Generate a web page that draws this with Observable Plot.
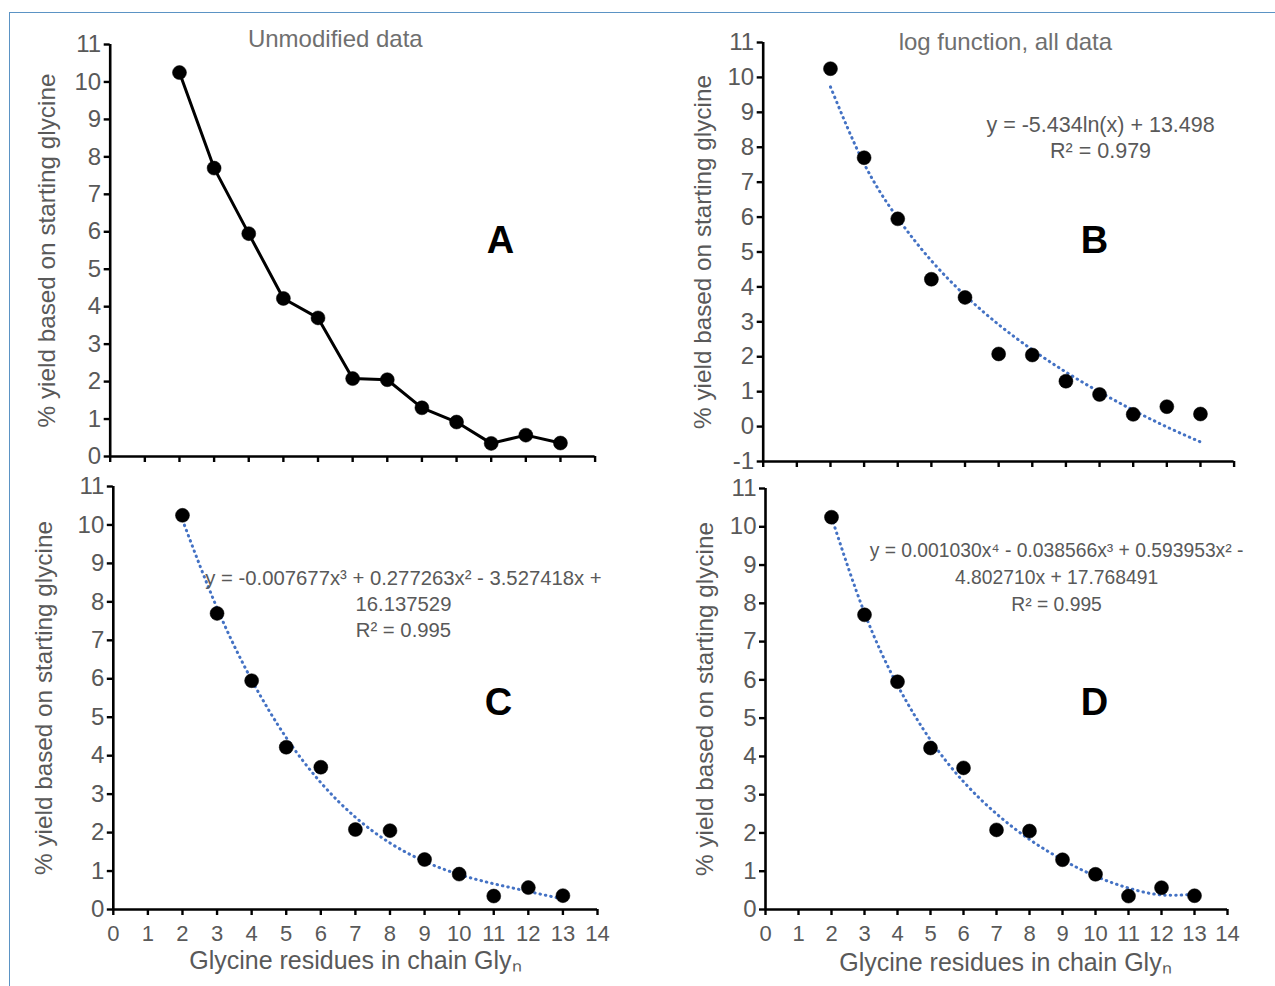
<!DOCTYPE html>
<html><head><meta charset="utf-8">
<script src="https://cdn.jsdelivr.net/npm/d3@7"></script>
<script src="https://cdn.jsdelivr.net/npm/@observablehq/plot@0.6"></script>
<style>
body{margin:0;background:#fff;}
#wrap{position:relative;width:1275px;height:986px;overflow:hidden;font-family:"Liberation Sans",Arial,sans-serif;background:#fff;}
#border{position:absolute;left:9px;top:12px;width:1300px;height:1000px;border-left:1.5px solid #5b93c4;border-top:1.5px solid #5b93c4;}
.panel{position:absolute;overflow:visible;}
</style></head><body><div id="wrap"><div id="border"></div></div>
<script>
// ---- data ----
const glycineN = [2, 3, 4, 5, 6, 7, 8, 9, 10, 11, 12, 13];
const yieldPct = [10.25, 7.7, 5.95, 4.22, 3.7, 2.08, 2.05, 1.3, 0.92, 0.35, 0.57, 0.36];
// trendline values read at each n
const logFit     = [9.73, 7.53, 5.97, 4.75, 3.76, 2.92, 2.20, 1.56, 0.99, 0.47, -0.01, -0.44];
const cubicFit   = [10.13, 7.84, 5.97, 4.47, 3.30, 2.40, 1.73, 1.25, 0.91, 0.67, 0.47, 0.27];
const quarticFit = [10.25, 7.75, 5.86, 4.43, 3.34, 2.50, 1.83, 1.30, 0.87, 0.56, 0.38, 0.40];
const xTickLabels = [0, 1, 2, 3, 4, 5, 6, 7, 8, 9, 10, 11, 12, 13, 14];
const yTickLabels = [0, 1, 2, 3, 4, 5, 6, 7, 8, 9, 10, 11];
const yTickLabelsB = [-1, 0, 1, 2, 3, 4, 5, 6, 7, 8, 9, 10, 11];
const panelLetters = ["A", "B", "C", "D"];
const panelTitles = ["Unmodified data", "log function, all data", "", ""];
const equationLines = [
  [],
  ["y = -5.434ln(x) + 13.498", "R² = 0.979"],
  ["y = -0.007677x³ + 0.277263x² - 3.527418x +", "16.137529", "R² = 0.995"],
  ["y = 0.001030x⁴ - 0.038566x³ + 0.593953x² -", "4.802710x + 17.768491", "R² = 0.995"]
];
const yAxisLabel = "% yield based on starting glycine";
const xAxisLabel = "Glycine residues in chain Glyₙ";

const table = glycineN.map((n, i) => ({n, y: yieldPct[i], log: logFit[i], cubic: cubicFit[i], quartic: quarticFit[i]}));

// ---- layout ----
const panels = [
  {left: 0, top: 0, width: 640, height: 470, mt: 44, mb: 14, ml: 109.7, mr: 45.4, ymin: 0, yt: yTickLabels,
   fit: null, xLabels: false, xLab: false, ylDx: -63,
   title: {x: 6.5, y: 11, dy: -5}, letter: {x: 11.27, y: 5.77}, eq: null},
  {left: 640, top: 0, width: 635, height: 470, mt: 42, mb: 9, ml: 122.7, mr: 41.4, ymin: -1, yt: yTickLabelsB,
   fit: "log", xLabels: false, xLab: false, ylDx: -60,
   title: {x: 7.2, y: 11, dy: 0}, letter: {x: 9.85, y: 5.33}, eq: {x: 10.03, y: 8.62, step: 0.72, size: 21.5}},
  {left: 0, top: 470, width: 640, height: 516, mt: 16, mb: 77, ml: 112.8, mr: 43, ymin: 0, yt: yTickLabels,
   fit: "cubic", xLabels: true, xLab: true, ylDx: -69, xlDx: 0, xlDy: 51,
   title: null, letter: {x: 11.14, y: 5.38}, eq: {x: 8.39, y: 8.61, step: 0.68, size: 20.3}},
  {left: 640, top: 470, width: 635, height: 516, mt: 18, mb: 77, ml: 125, mr: 48, ymin: 0, yt: yTickLabels,
   fit: "quartic", xLabels: true, xLab: true, ylDx: -60, xlDx: 9, xlDy: 53,
   title: null, letter: {x: 9.97, y: 5.41}, eq: {x: 8.82, y: 9.38, step: 0.71, size: 19.3}}
];

const gray = "#595959";
const wrap = document.getElementById("wrap");

panels.forEach((p, idx) => {
  const marks = [];
  // axis lines
  marks.push(Plot.ruleX([0], {stroke: "black", strokeWidth: 2.6}));
  marks.push(Plot.ruleY([p.ymin], {stroke: "black", strokeWidth: 2.6}));
  // y ticks
  marks.push(Plot.axisY({ticks: p.yt, tickSize: 6, stroke: "black", strokeWidth: 2.4, label: null, tickFormat: () => ""}));
  // x ticks
  marks.push(Plot.axisX({ticks: xTickLabels, tickSize: 6, stroke: "black", strokeWidth: 2.4, label: null, tickFormat: () => ""}));
  // y tick labels
  marks.push(Plot.text(p.yt, {x: () => 0, y: d => d, text: d => String(d), dx: -9, textAnchor: "end",
    lineAnchor: "middle", fill: gray, fontSize: 24}));
  // x tick labels
  if (p.xLabels) {
    marks.push(Plot.text(xTickLabels, {x: d => d, y: () => p.ymin, text: d => String(d), dy: 24,
      textAnchor: "middle", lineAnchor: "middle", fill: gray, fontSize: 22}));
  }
  // y axis title
  marks.push(Plot.text([yAxisLabel], {frameAnchor: "left", rotate: -90, dx: p.ylDx, fill: gray, fontSize: 24.3,
    textAnchor: "middle", lineAnchor: "middle"}));
  if (p.xLab) {
    marks.push(Plot.text([xAxisLabel], {frameAnchor: "bottom", dx: p.xlDx, dy: p.xlDy, fill: gray, fontSize: 25,
      textAnchor: "middle", lineAnchor: "middle"}));
  }
  // data
  if (p.fit === null) {
    marks.push(Plot.line(table, {x: "n", y: "y", stroke: "black", strokeWidth: 3}));
  } else {
    marks.push(Plot.line(table, {x: "n", y: p.fit, stroke: "#4472C4", strokeWidth: 3, curve: "natural",
      strokeDasharray: "0.5 5", strokeLinecap: "round"}));
  }
  marks.push(Plot.dot(table, {x: "n", y: "y", r: 7, fill: "black", stroke: "black", strokeWidth: 0.5}));
  // title
  if (p.title && panelTitles[idx]) {
    marks.push(Plot.text([panelTitles[idx]], {x: () => p.title.x, y: () => p.title.y, dy: p.title.dy,
      fill: "#6f6f6f", fontSize: 24, lineAnchor: "middle"}));
  }
  // letter
  marks.push(Plot.text([panelLetters[idx]], {x: () => p.letter.x, y: () => p.letter.y, fill: "black",
    fontSize: 38, fontWeight: "bold", lineAnchor: "middle"}));
  // equation
  if (p.eq) {
    marks.push(Plot.text(equationLines[idx], {x: () => p.eq.x, y: (d, i) => p.eq.y - i * p.eq.step,
      fill: gray, fontSize: p.eq.size, lineAnchor: "middle"}));
  }
  const chart = Plot.plot({
    width: p.width, height: p.height,
    marginTop: p.mt, marginBottom: p.mb, marginLeft: p.ml, marginRight: p.mr,
    x: {domain: [0, 14], axis: null},
    y: {domain: [p.ymin, 11], axis: null},
    style: {fontFamily: '"Liberation Sans", Arial, sans-serif', background: "transparent", overflow: "visible"},
    marks
  });
  chart.classList.add("panel");
  chart.style.left = p.left + "px";
  chart.style.top = p.top + "px";
  wrap.appendChild(chart);
});
</script>
</body></html>
